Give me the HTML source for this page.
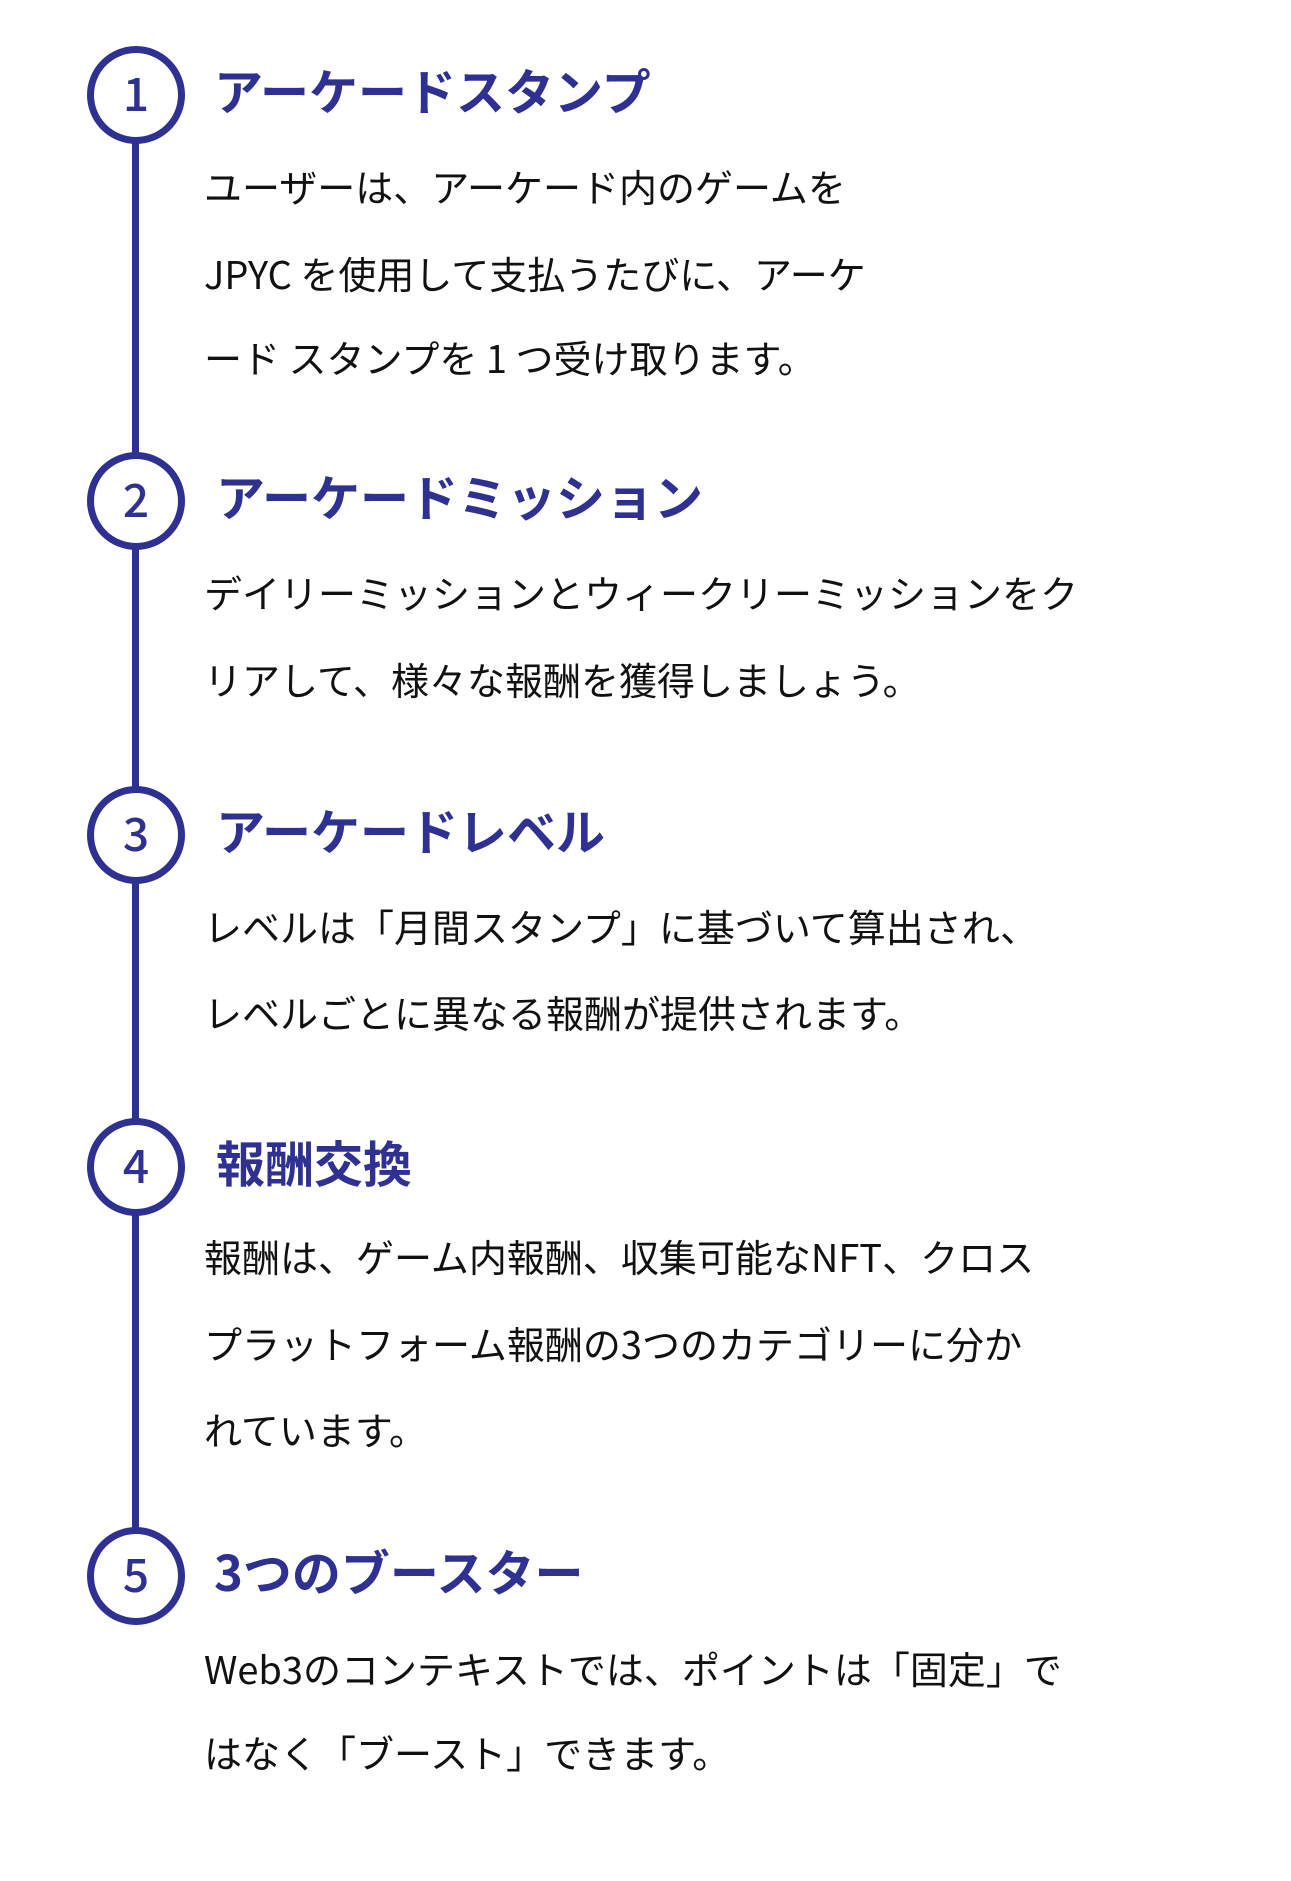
<!DOCTYPE html>
<html><head><meta charset="utf-8"><style>
html,body{margin:0;padding:0;background:#fff;}
body{width:1291px;height:1881px;position:relative;overflow:hidden;font-family:"Noto Sans CJK JP","Liberation Sans",sans-serif;}
.c{position:absolute;width:84px;height:84px;border:7px solid #2e3192;border-radius:50%;background:#fff;color:#2e3192;font-size:46px;line-height:78px;text-align:center;font-weight:500;}
.line{position:absolute;left:132px;width:7px;background:#2e3192;}
.t{position:absolute;left:214px;color:#2e3192;font-size:49px;font-weight:bold;line-height:60px;white-space:nowrap;}
.b{position:absolute;left:204px;color:#111;font-size:38px;line-height:50px;white-space:nowrap;}
</style></head><body>
<div class="line" style="top:94px;height:1487px"></div>
<div class="c" style="left:87px;top:46px">1</div>
<div class="c" style="left:87px;top:452px">2</div>
<div class="c" style="left:87px;top:786px">3</div>
<div class="c" style="left:87px;top:1118px">4</div>
<div class="c" style="left:87px;top:1527px">5</div>

<div class="t" style="top:60px">アーケードスタンプ</div>
<div class="b" style="top:161px">ユーザーは、アーケード内のゲームを</div>
<div class="b" style="top:248px">JPYC を使用して支払うたびに、アーケ</div>
<div class="b" style="top:332px">ード スタンプを 1 つ受け取ります。</div>

<div class="t" style="top:466px;left:216px">アーケードミッション</div>
<div class="b" style="top:567px">デイリーミッションとウィークリーミッションをク</div>
<div class="b" style="top:654px">リアして、様々な報酬を獲得しましょう。</div>

<div class="t" style="top:800px;left:216px">アーケードレベル</div>
<div class="b" style="top:901px">レベルは「月間スタンプ」に基づいて算出され、</div>
<div class="b" style="top:987px">レベルごとに異なる報酬が提供されます。</div>

<div class="t" style="top:1132px;left:216px">報酬交換</div>
<div class="b" style="top:1231px">報酬は、ゲーム内報酬、収集可能なNFT、クロス</div>
<div class="b" style="top:1318px">プラットフォーム報酬の3つのカテゴリーに分か</div>
<div class="b" style="top:1404px">れています。</div>

<div class="t" style="top:1541px;left:214px">3つのブースター</div>
<div class="b" style="top:1643px">Web3のコンテキストでは、ポイントは「固定」で</div>
<div class="b" style="top:1727px">はなく「ブースト」できます。</div>
</body></html>
